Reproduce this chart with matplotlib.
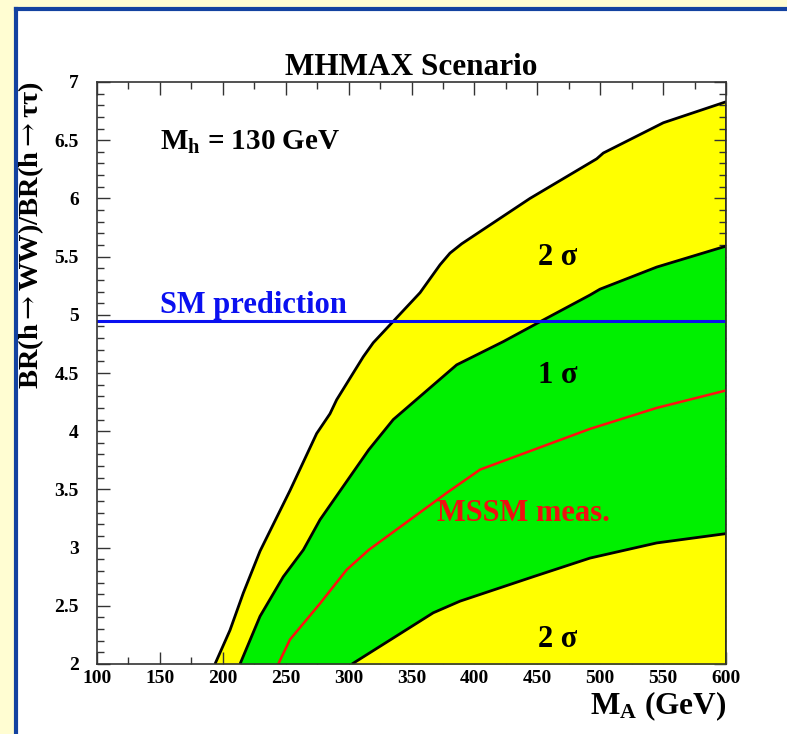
import matplotlib
matplotlib.use("Agg")
import matplotlib.pyplot as plt
from matplotlib.patches import Rectangle
from matplotlib.ticker import MultipleLocator
import numpy as np

plt.rcParams['mathtext.fontset'] = 'custom'
plt.rcParams['mathtext.rm'] = 'Liberation Serif:bold'
plt.rcParams['mathtext.bf'] = 'Liberation Serif:bold'
plt.rcParams['mathtext.it'] = 'Liberation Serif:bold'
plt.rcParams['mathtext.sf'] = 'DejaVu Serif'

SERIF = ['Liberation Serif', 'DejaVu Serif']

# ---- data ----
outer_x = [193.8, 205.7, 216.3, 229.6, 253.4, 274.6, 285.2, 290.5, 311.7, 319.6,
           336.9, 356.8, 372.7, 380.6, 389.9, 444.2, 497.2, 502.5, 550.2, 600.0]
outer_y = [2.00, 2.29, 2.61, 2.97, 3.49, 3.98, 4.15, 4.27, 4.64, 4.76,
           4.96, 5.19, 5.43, 5.53, 5.61, 6.00, 6.34, 6.39, 6.65, 6.83]

sig1_up_x = [213.7, 229.6, 248.1, 264.0, 277.3, 316.0, 335.5, 385.9, 423.0, 452.1,
             491.9, 499.8, 544.9, 600.0]
sig1_up_y = [2.00, 2.41, 2.75, 2.98, 3.24, 3.84, 4.10, 4.57, 4.77, 4.94,
             5.17, 5.22, 5.41, 5.59]

meas_x = [244.1, 253.4, 277.3, 298.5, 316.0, 378.0, 404.5, 491.9, 544.9, 600.0]
meas_y = [2.00, 2.21, 2.52, 2.81, 2.98, 3.47, 3.67, 4.02, 4.20, 4.35]

sig1_lo_x = [302.7, 340.9, 367.3, 388.6, 446.8, 491.9, 544.9, 600.0]
sig1_lo_y = [2.00, 2.26, 2.44, 2.54, 2.75, 2.91, 3.04, 3.12]

sm_value = 4.95
x_min, x_max = 100, 600
y_min, y_max = 2, 7

fig = plt.figure(figsize=(7.87, 7.34), dpi=100)
fig.patch.set_facecolor('#FFFDD2')

W, H = 787, 734
# white panel with blue frame
fig.patches.append(Rectangle((16 / W, 0), 1.0, 1 - 9 / H, transform=fig.transFigure,
                             facecolor='white', edgecolor='none', zorder=-10))
fig.lines.append(plt.Line2D([16 / W, 16 / W], [0, 1 - 9 / H], transform=fig.transFigure,
                            color='#1342A0', lw=3.0, zorder=-9))
fig.lines.append(plt.Line2D([16 / W, 1.0], [1 - 9 / H, 1 - 9 / H], transform=fig.transFigure,
                            color='#1342A0', lw=3.0, zorder=-9))

ax = fig.add_axes([97 / W, 1 - 664 / H, (726 - 97) / W, (664 - 82) / H])
ax.set_facecolor('white')
ax.set_xlim(x_min, x_max)
ax.set_ylim(y_min, y_max)

yellow = '#FFFF00'
green = '#00F000'
ax.fill_between(outer_x, y_min, outer_y, color=yellow, lw=0, zorder=1)
ax.fill_between(sig1_up_x, y_min, sig1_up_y, color=green, lw=0, zorder=2)
ax.fill_between(sig1_lo_x, y_min, sig1_lo_y, color=yellow, lw=0, zorder=3)

for xs, ys in [(outer_x, outer_y), (sig1_up_x, sig1_up_y), (sig1_lo_x, sig1_lo_y)]:
    ax.plot(xs, ys, color='black', lw=2.0, zorder=4, solid_capstyle='butt',
            solid_joinstyle='round')
ax.plot([x_max, x_max], [y_min, outer_y[-1]], color='black', lw=2.0, zorder=4)
ax.plot(meas_x, meas_y, color='#FF1010', lw=1.8, zorder=5, solid_joinstyle='round')
ax.axhline(sm_value, color='#0A10F0', lw=2.2, zorder=6)

tfont = dict(family=SERIF, weight='bold')
ax.text(150, 6.48, r'$\mathbf{M_h}$ = 130 GeV', fontsize=21, ha='left', va='center', **tfont)
ax.text(150, 5.08, 'SM prediction', fontsize=22, color='#0A10F0', ha='left', va='center', **tfont)
ax.text(370, 3.29, 'MSSM meas.', fontsize=22, color='#F01010', ha='left', va='center', **tfont)
ax.text(466, 5.49, '2 σ', fontsize=22, ha='center', va='center', **tfont)
ax.text(466, 4.48, '1 σ', fontsize=22, ha='center', va='center', **tfont)
ax.text(466, 2.21, '2 σ', fontsize=22, ha='center', va='center', **tfont)

ax.set_title('MHMAX Scenario', fontsize=22.5, pad=0, **tfont)

ax.set_xlabel(r'$\mathbf{M_A}$ (GeV)', fontsize=22.5, ha='right', x=1.0, labelpad=2, **tfont)
ax.set_ylabel(r'BR(h$\mathsf{\rightarrow}$WW)/BR(h$\mathsf{\rightarrow}$ττ)', fontsize=20.5,
              ha='right', y=1.0, labelpad=6, **tfont)

ax.xaxis.set_major_locator(MultipleLocator(50))
ax.xaxis.set_minor_locator(MultipleLocator(25))
ax.yaxis.set_major_locator(MultipleLocator(0.5))
ax.yaxis.set_minor_locator(MultipleLocator(0.1))
ax.tick_params(which='both', direction='in', top=True, right=True, width=1.0, color='#333333')
ax.tick_params(which='major', length=9)
ax.tick_params(which='minor', length=5)
ax.tick_params(axis='x', pad=4)
ax.tick_params(axis='y', pad=13)

def fmt(v):
    return ('%g' % v)
ax.set_xticks(np.arange(100, 601, 50))
ax.set_xticklabels([fmt(v) for v in np.arange(100, 601, 50)])
ax.set_yticks(np.arange(2, 7.01, 0.5))
ax.set_yticklabels([fmt(v) for v in np.arange(2, 7.01, 0.5)])
for lab in ax.get_xticklabels() + ax.get_yticklabels():
    lab.set_family(SERIF)
    lab.set_weight('bold')
    lab.set_fontsize(14)

for s in ax.spines.values():
    s.set_linewidth(1.2)
    s.set_color('#333333')
    s.set_zorder(7)

fig.savefig('out.png', dpi=100, facecolor=fig.get_facecolor())
